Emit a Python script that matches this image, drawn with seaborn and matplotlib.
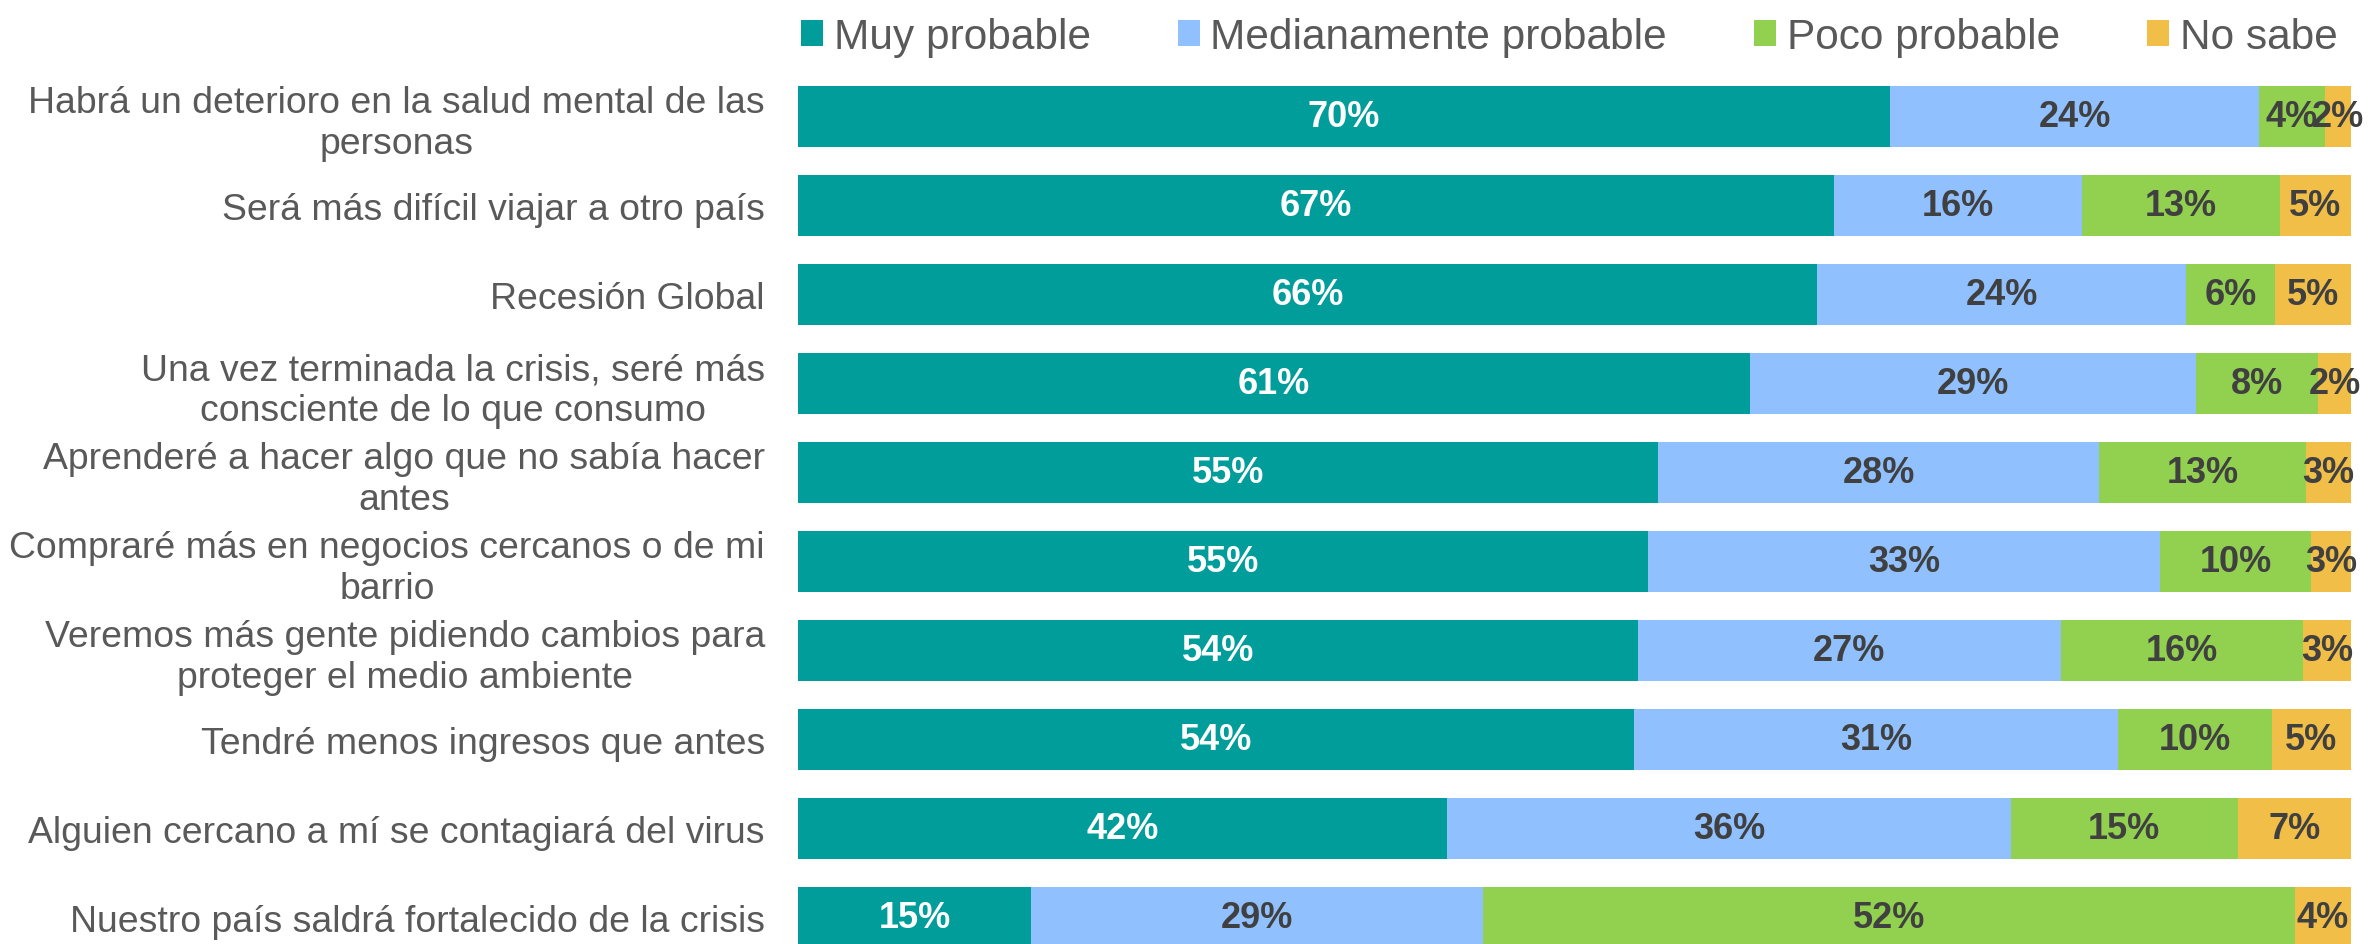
import numpy as np
import pandas as pd
import matplotlib
matplotlib.use("Agg")
import matplotlib.pyplot as plt
import seaborn as sns
from matplotlib.patches import Patch

categories = [
    "Habrá un deterioro en la salud mental de las\npersonas",
    "Será más difícil viajar a otro país",
    "Recesión Global",
    "Una vez terminada la crisis, seré más\nconsciente de lo que consumo",
    "Aprenderé a hacer algo que no sabía hacer\nantes",
    "Compraré más en negocios cercanos o de mi\nbarrio",
    "Veremos más gente pidiendo cambios para\nproteger el medio ambiente",
    "Tendré menos ingresos que antes",
    "Alguien cercano a mí se contagiará del virus",
    "Nuestro país saldrá fortalecido de la crisis",
]
series_names = ["Muy probable", "Medianamente probable", "Poco probable", "No sabe"]
muy_probable = [70.4, 66.7, 65.6, 61.3, 55.4, 54.8, 54.1, 53.8, 41.8, 15.0]
medianamente = [23.8, 16.0, 23.8, 28.7, 28.4, 33.0, 27.2, 31.2, 36.3, 29.1]
poco_probable = [4.2, 12.7, 5.7, 7.9, 13.3, 9.7, 15.6, 9.9, 14.6, 52.3]
no_sabe = [1.7, 4.6, 4.9, 2.1, 2.9, 2.6, 3.1, 5.1, 7.3, 3.6]
labels_muy = ["70%", "67%", "66%", "61%", "55%", "55%", "54%", "54%", "42%", "15%"]
labels_med = ["24%", "16%", "24%", "29%", "28%", "33%", "27%", "31%", "36%", "29%"]
labels_poco = ["4%", "13%", "6%", "8%", "13%", "10%", "16%", "10%", "15%", "52%"]
labels_ns = ["2%", "5%", "5%", "2%", "3%", "3%", "3%", "5%", "7%", "4%"]

colors = ["#009D9A", "#90C1FE", "#92D050", "#F1BE48"]
text_colors = ["white", "#404040", "#404040", "#404040"]

sns.set_theme(style="white")
plt.rcParams["font.family"] = ["Liberation Sans", "DejaVu Sans"]

vals = np.array([muy_probable, medianamente, poco_probable, no_sabe], dtype=float)
vals = vals / vals.sum(axis=0) * 100.0
cum = np.cumsum(vals, axis=0)
all_labels = [labels_muy, labels_med, labels_poco, labels_ns]

W, H = 2369, 945
fig = plt.figure(figsize=(W / 100, H / 100), dpi=100)
ax = fig.add_axes([798 / W, 0, (2351 - 798) / W, 1 - 73 / H])

# draw cumulative bars from the widest to the narrowest so they stack
for k in range(3, -1, -1):
    df = pd.DataFrame({"cat": categories, "val": cum[k]})
    sns.barplot(data=df, x="val", y="cat", orient="h", color=colors[k],
                width=0.685, saturation=1, ax=ax, linewidth=0, order=categories)

for k in range(4):
    starts = cum[k] - vals[k]
    for i in range(len(categories)):
        cx = starts[i] + vals[k][i] / 2
        ax.text(cx, i, all_labels[k][i], ha="center", va="center",
                fontsize=26, fontweight="bold", color=text_colors[k])

ax.set_xlim(0, 100)
ax.set_ylim(9.298, -0.5)
ax.set_xlabel("")
ax.set_ylabel("")
ax.set_xticks([])
for s in ax.spines.values():
    s.set_visible(False)
ax.tick_params(axis="y", length=0, pad=23.8, labelsize=26.9, labelcolor="#595959")
for lab in ax.get_yticklabels():
    lab.set_multialignment("center")
    lab.set_linespacing(1.22)

handles = [Patch(facecolor=c, edgecolor="none") for c in colors]
fig.legend(handles, series_names, loc="center left",
           bbox_to_anchor=(801 / W, 1 - 38 / H), ncol=4, frameon=False,
           fontsize=30.5, handlelength=0.52, handleheight=0.55,
           handletextpad=0.25, columnspacing=2.06, borderpad=0,
           borderaxespad=0, labelcolor="#595959")

fig.savefig("out.png", dpi=100)
